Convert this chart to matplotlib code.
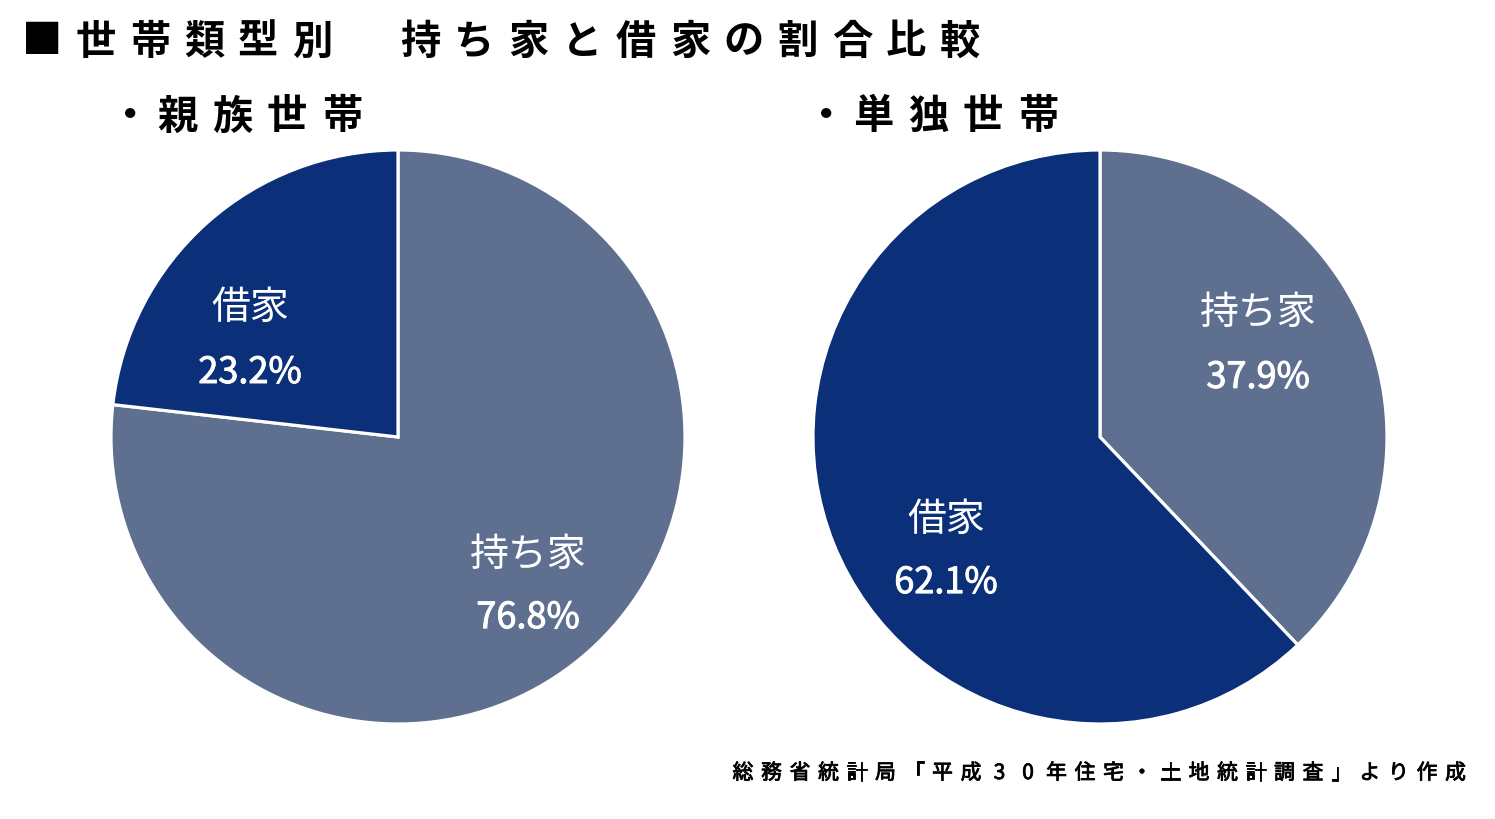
import matplotlib
matplotlib.use("Agg")
import matplotlib.pyplot as plt
import matplotlib.patheffects as pe

plt.rcParams['font.family'] = ['Noto Sans CJK JP', 'DejaVu Sans']

# ---- data ----
categories = ["持ち家", "借家"]
family_values = [76.8, 23.2]      # 親族世帯
single_values = [37.9, 62.1]      # 単独世帯
title_text = "■世帯類型別　持ち家と借家の割合比較"
sub_left = "親族世帯"
sub_right = "単独世帯"
source_text = "総務省統計局「平成30年住宅・土地統計調査」より作成"

colors = {"持ち家": "#5e6f8f", "借家": "#0b2f79"}

W, H = 1495, 819
fig = plt.figure(figsize=(W / 100, H / 100), dpi=100)
fig.patch.set_facecolor("white")


def spaced(text, x0, pitch, y, **kw):
    for i, ch in enumerate(text):
        if ch.strip() == "" or ch == "　":
            continue
        fig.text((x0 + i * pitch) / W, 1 - y / H, ch, ha="center", va="center", **kw)


spaced(title_text, 42, 54.0, 42, fontsize=29, fontweight="bold", color="black")
# subtitles: bullet then spaced characters
fig.text(130 / W, 1 - 117 / H, "・", ha="center", va="center", fontsize=29,
         fontweight="bold", color="black")
spaced(sub_left, 177, 55, 117, fontsize=29, fontweight="bold", color="black")
fig.text(826 / W, 1 - 117 / H, "・", ha="center", va="center", fontsize=29,
         fontweight="bold", color="black")
spaced(sub_right, 873, 55, 117, fontsize=29, fontweight="bold", color="black")
spaced(source_text, 743, 28.5, 773, fontsize=15, fontweight="normal", color="black",
       path_effects=[pe.withStroke(linewidth=0.6, foreground="black")])


def draw_pie(cx, cy, r, values, label_pos):
    ax = fig.add_axes([(cx - r) / W, (H - cy - r) / H, 2 * r / W, 2 * r / H])
    ax.pie(values, colors=[colors[c] for c in categories], startangle=90,
           counterclock=False, radius=1,
           wedgeprops=dict(edgecolor="white", linewidth=2.3))
    ax.set_xlim(-1, 1)
    ax.set_ylim(-1, 1)
    ax.set_aspect("equal")
    ax.axis("off")
    for cat, v in zip(categories, values):
        x, y1, y2 = label_pos[cat]
        ax.text(x, y1, cat, ha="center", va="center", color="white", fontsize=28)
        ax.text(x, y2, f"{v:.1f}%", ha="center", va="center", color="white",
                fontsize=26, fontweight="normal",
                path_effects=[pe.withStroke(linewidth=0.7, foreground="white")])
    return ax


draw_pie(398, 437, 287, family_values,
         {"持ち家": (0.453, -0.411, -0.631), "借家": (-0.516, 0.449, 0.223)})
draw_pie(1100, 437, 287, single_values,
         {"持ち家": (0.551, 0.432, 0.206), "借家": (-0.537, -0.289, -0.509)})

fig.savefig("out.png", dpi=100, facecolor="white")
